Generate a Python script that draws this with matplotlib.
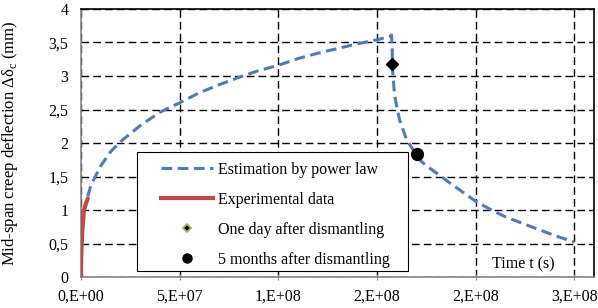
import numpy as np
import matplotlib.pyplot as plt
from matplotlib.lines import Line2D
from matplotlib.patches import Rectangle

plt.rcParams['font.family'] = ['Liberation Serif', 'DejaVu Serif']
plt.rcParams['mathtext.fontset'] = 'custom'
plt.rcParams['mathtext.rm'] = 'Liberation Serif'

# estimation by power law (loading then recovery)
est_t = [0.0, 0.035e7, 0.15e7, 0.34e7, 0.5e7, 1.0e7, 1.5e7, 2.0e7, 3.0e7,
         4.0e7, 5.0e7, 6.0e7, 7.0e7, 8.0e7, 9.0e7, 1.0e8, 1.1e8, 1.2e8,
         1.3e8, 1.4e8, 1.5e8, 1.564e8,
         1.574e8, 1.577e8, 1.579e8, 1.589e8, 1.6e8, 1.614e8, 1.65e8, 1.716e8,
         1.75e8, 1.817e8, 1.88e8, 1.943e8, 2.0e8, 2.08e8, 2.15e8, 2.3e8,
         2.4e8, 2.5e8]
est_y = [0.0, 0.62, 0.98, 1.2, 1.37, 1.66, 1.87, 2.02, 2.26,
         2.46, 2.6, 2.75, 2.87, 2.98, 3.08, 3.16, 3.26, 3.34,
         3.41, 3.48, 3.54, 3.59,
         3.61, 3.42, 3.09, 2.72, 2.55, 2.35, 2.05, 1.75,
         1.66, 1.52, 1.38, 1.25, 1.13, 1.0, 0.9, 0.73,
         0.62, 0.52]

# experimental data
exp_t = [0.0, 0.01e7, 0.035e7, 0.08e7, 0.15e7, 0.25e7, 0.34e7]
exp_y = [0.0, 0.3, 0.5, 0.75, 1.0, 1.1, 1.17]

day_t, day_y = [1.574e8], [3.18]
month_t, month_y = [1.705e8], [1.84]

xticks = [0, 5e7, 1e8, 1.5e8, 2e8, 2.5e8]
xlabels = ['0,E+00', '5,E+07', '1,E+08', '2,E+08', '2,E+08', '3,E+08']
yticks = [0, 0.5, 1, 1.5, 2, 2.5, 3, 3.5, 4]
ylabels = ['0', '0,5', '1', '1,5', '2', '2,5', '3', '3,5', '4']

blue = '#4A7EBB'
red = '#BE4B48'

fig = plt.figure(figsize=(5.98, 3.08), dpi=100)
ax = fig.add_axes([0.1355, 0.1006, 0.8578, 0.8702])

ax.plot(est_t, est_y, color=blue, lw=2.2, dashes=(3.5, 1.8),
        label='Estimation by power law', zorder=3)
ax.plot(exp_t, exp_y, color=red, lw=3, label='Experimental data', zorder=4,
        solid_capstyle='round')
ax.plot(day_t, day_y, ls='none', marker='D', ms=6.5, mfc='black', mec='black',
        zorder=5)
ax.plot(month_t, month_y, ls='none', marker='o', ms=8.5, mfc='black',
        mec='black', zorder=5)

ax.set_xlim(0, 2.6e8)
ax.set_ylim(0, 4)
ax.set_xticks(xticks)
ax.set_xticklabels(xlabels, fontsize=11.5)
ax.set_yticks(yticks)
ax.set_yticklabels(ylabels, fontsize=11.5)
ax.tick_params(axis='x', direction='inout', length=5, color='#868686', pad=6)
ax.tick_params(axis='y', length=0, pad=9)
ax.grid(True, color='black', lw=1, ls=(0, (5.5, 3)))
ax.set_axisbelow(True)

for s in ['left', 'bottom']:
    ax.spines[s].set_color('#868686')
    ax.spines[s].set_linewidth(1.2)
for s in ['top', 'right']:
    ax.spines[s].set_color('black')
    ax.spines[s].set_linewidth(1.2)

ax.set_ylabel('Mid-span creep deflection Δδ$_{\\rm c}$ (mm)', fontsize=12)
ax.yaxis.set_label_coords(-0.119, 0.5)
ax.text(0.862, 0.018, 'Time t (s)', transform=ax.transAxes, fontsize=11.5,
        ha='center', va='bottom')

# legend frame drawn separately so the entries can sit inset like the original
ax.add_patch(Rectangle((0.109, 0.022), 0.528, 0.444, transform=ax.transAxes,
                       facecolor='white', edgecolor='black', lw=0.8, zorder=6))

handles = [
    Line2D([], [], color=blue, lw=2.2, dashes=(3.5, 1.8)),
    Line2D([], [], color=red, lw=3),
    Line2D([], [], ls='none', marker='D', ms=4.5, mfc='black', mec='#9BBB59',
           mew=1.3),
    Line2D([], [], ls='none', marker='o', ms=6.5, mfc='black', mec='black'),
]
labels = ['Estimation by power law', 'Experimental data',
          'One day after dismantling', '5 months after dismantling']
leg = ax.legend(handles, labels, loc='upper left',
                bbox_to_anchor=(0.155, 0.43), borderaxespad=0, borderpad=0,
                fontsize=11.5, frameon=False, handlelength=3.3,
                handletextpad=0.3, labelspacing=0.88)
leg.set_zorder(7)

fig.savefig('out.png', dpi=100)
